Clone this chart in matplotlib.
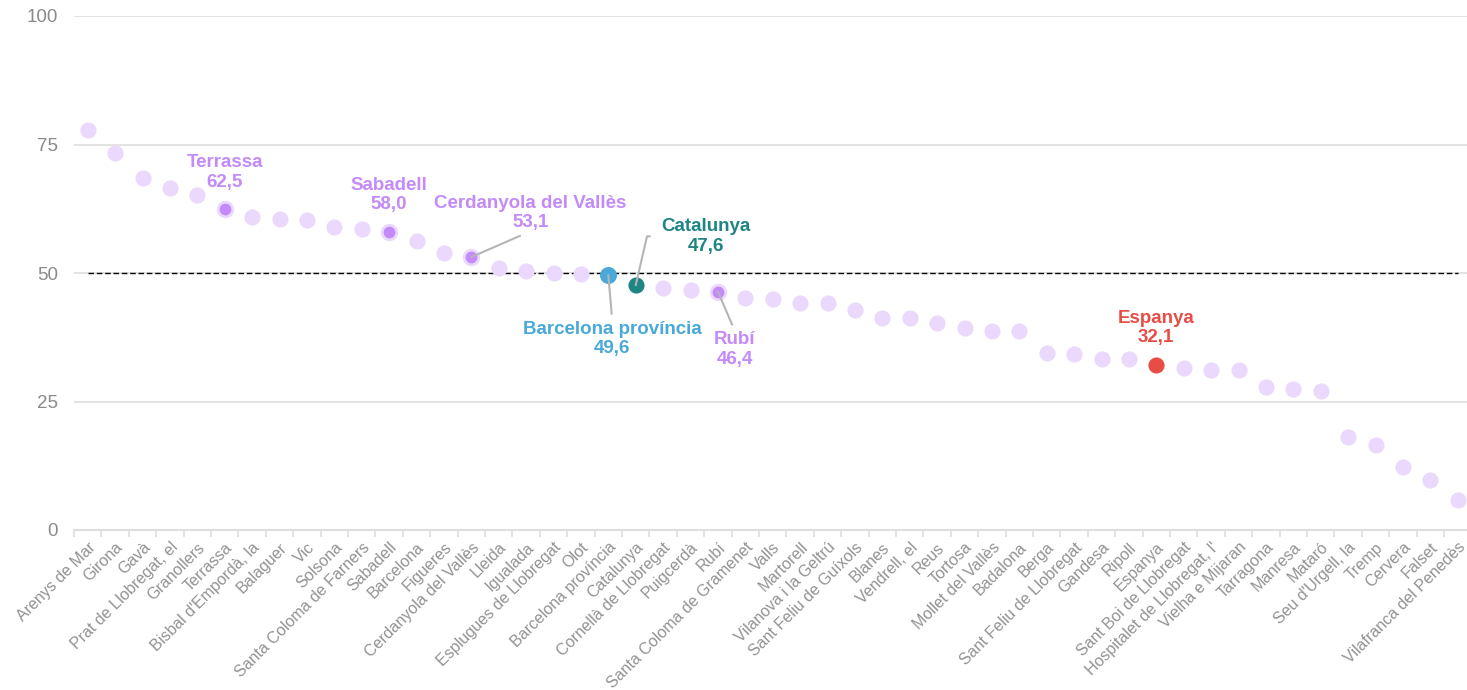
import numpy as np
import matplotlib.pyplot as plt

plt.rcParams['font.family'] = ['Liberation Sans', 'DejaVu Sans']

municipis = [
    "Arenys de Mar", "Girona", "Gavà", "Prat de Llobregat, el", "Granollers",
    "Terrassa", "Bisbal d'Empordà, la", "Balaguer", "Vic", "Solsona",
    "Santa Coloma de Farners", "Sabadell", "Barcelona", "Figueres",
    "Cerdanyola del Vallès", "Lleida", "Igualada", "Esplugues de Llobregat",
    "Olot", "Barcelona província", "Catalunya", "Cornellà de Llobregat",
    "Puigcerdà", "Rubí", "Santa Coloma de Gramenet", "Valls", "Martorell",
    "Vilanova i la Geltrú", "Sant Feliu de Guíxols", "Blanes", "Vendrell, el",
    "Reus", "Tortosa", "Mollet del Vallès", "Badalona", "Berga",
    "Sant Feliu de Llobregat", "Gandesa", "Ripoll", "Espanya",
    "Sant Boi de Llobregat", "Hospitalet de Llobregat, l'", "Vielha e Mijaran",
    "Tarragona", "Manresa", "Mataró", "Seu d'Urgell, la", "Tremp", "Cervera",
    "Falset", "Vilafranca del Penedès",
]
valors = [
    77.9, 73.4, 68.5, 66.5, 65.1, 62.5, 60.9, 60.6, 60.3, 58.9,
    58.6, 58.0, 56.2, 53.8, 53.1, 51.0, 50.4, 50.0, 49.8, 49.6,
    47.6, 47.1, 46.6, 46.4, 45.2, 45.0, 44.2, 44.2, 42.8, 41.3,
    41.2, 40.3, 39.3, 38.8, 38.8, 34.5, 34.3, 33.3, 33.3, 32.1,
    31.5, 31.2, 31.2, 27.8, 27.5, 27.1, 18.1, 16.5, 12.2, 9.8, 5.8,
]
referencia = 50

lila_clar = "#ead9fd"
lila = "#c48af9"
blau = "#4aa9d9"
verd = "#1f8484"
vermell = "#e84d45"

# destacats: nom -> (color, desplaçament del text en px, inici de la línia guia)
destacats = {
    "Terrassa": (lila, (0, 36), None),
    "Sabadell": (lila, (0, 37), None),
    "Cerdanyola del Vallès": (lila, (59, 44), (0.5, 0)),
    "Catalunya": (verd, (70, 49), (0, 0.5)),
    "Barcelona província": (blau, (4, -64), (0.5, 1)),
    "Rubí": (lila, (17, -58), (0.5, 1)),
    "Espanya": (vermell, (0, 37), None),
}

px = 0.72  # punts per píxel a dpi 100

fig = plt.figure(figsize=(14.67, 6.9), dpi=100)
ax = fig.add_axes([74 / 1467, 1 - 530 / 690, 1397.4 / 1467, 514 / 690])

x = np.arange(len(municipis))
ax.set_xlim(-0.5, len(municipis) - 0.5)
ax.set_ylim(0, 100)

ax.set_yticks([0, 25, 50, 75, 100])
ax.yaxis.grid(True, color="#dedede", linewidth=1.2)
ax.set_axisbelow(True)
for s in ["top", "right", "left"]:
    ax.spines[s].set_visible(False)
ax.spines["bottom"].set_color("#dedede")
ax.spines["bottom"].set_linewidth(1.5)
ax.tick_params(axis="y", length=0, pad=11.5, labelsize=13.5, labelcolor="#8a8a8a")

ax.set_xticks(x)
ax.set_xticklabels(municipis, rotation=45, ha="right", rotation_mode="anchor",
                   fontsize=11.5, color="#929292")
ax.set_xticks(np.arange(len(municipis) + 1) - 0.5, minor=True)
ax.tick_params(axis="x", which="major", length=0, pad=7)
ax.tick_params(axis="x", which="minor", length=5, color="#dedede", width=1.2)

ax.hlines(referencia, 0, len(municipis) - 1, colors="black", linestyles=(0, (4, 2)),
          linewidth=1, zorder=2)

normals = [i for i, m in enumerate(municipis) if m not in destacats]
ax.scatter(x[normals], np.array(valors)[normals], s=135, color=lila_clar,
           linewidths=0, zorder=3)

for nom, (color, (dx, dy), rel) in destacats.items():
    i = municipis.index(nom)
    v = valors[i]
    if color == lila:
        ax.scatter(i, v, s=110, color=lila, edgecolors=lila_clar, linewidths=2, zorder=4)
    else:
        ax.scatter(i, v, s=150 if color == blau else 135, color=color,
                   linewidths=0, zorder=4)
    txt = f"{nom}\n{v:.1f}".replace(".", ",")
    arrow = None
    if rel is not None:
        conn = "angle,angleA=0,angleB=77,rad=0" if nom == "Catalunya" else "arc3"
        arrow = dict(arrowstyle="-", color="#b5b5b5", lw=1.5, relpos=rel,
                     shrinkA=3 if nom != "Catalunya" else 6, shrinkB=0,
                     connectionstyle=conn)
    ax.annotate(txt, (i, v), xytext=(dx * px, dy * px), textcoords="offset points",
                ha="center", va="center", color=color, fontsize=13.5,
                fontweight="bold", linespacing=1.2, arrowprops=arrow, zorder=5)

fig.savefig("out.png", dpi=100)
